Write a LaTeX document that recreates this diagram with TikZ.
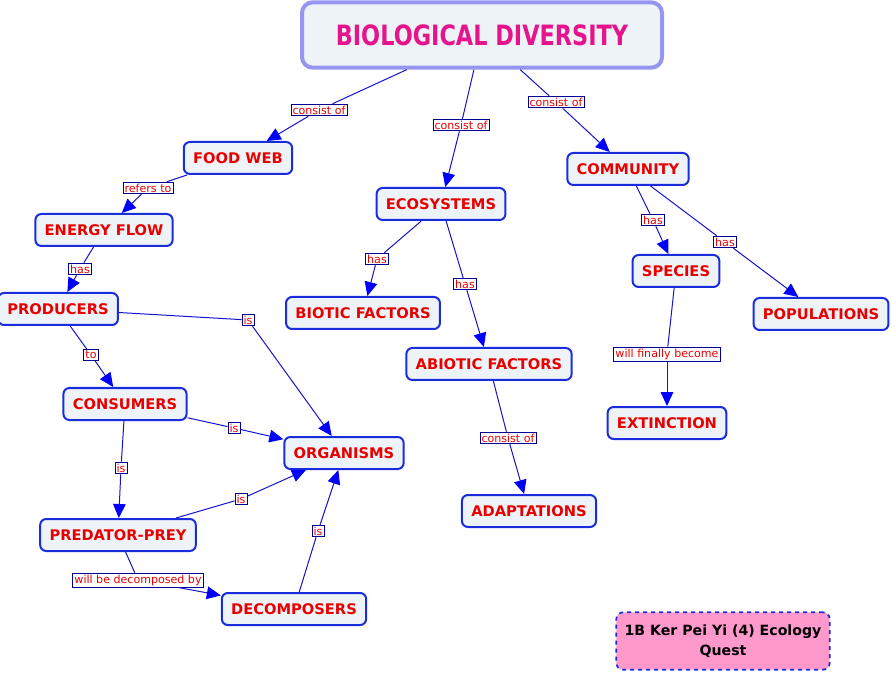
\documentclass[tikz,border=0pt]{standalone}
\usepackage{fontspec}
\setmainfont{DejaVu Sans}
\newfontfamily\titlefont{DejaVu Sans}[FakeStretch=0.8]
\usetikzlibrary{arrows.meta}
\definecolor{boxfill}{RGB}{238,243,247}
\definecolor{boxline}{RGB}{25,45,220}
\definecolor{txtred}{RGB}{232,0,0}
\definecolor{linkblue}{RGB}{20,20,205}
\definecolor{tipblue}{RGB}{0,0,255}
\definecolor{lblline}{RGB}{0,0,150}
\definecolor{titleline}{RGB}{150,150,240}
\definecolor{titletxt}{RGB}{230,20,140}
\definecolor{notefill}{RGB}{255,153,204}
\begin{document}
\begin{tikzpicture}[x=0.75pt, y=-0.75pt,
    concept/.style={draw=boxline, line width=1.5pt, fill=boxfill, rounded corners=4.5pt,
        text=txtred, font=\bfseries\fontsize{11}{13}\selectfont, inner xsep=7pt, minimum height=24pt},
    linking/.style={draw=lblline, line width=0.6pt, fill=white, text=txtred,
        font=\fontsize{8.3}{10}\selectfont, inner sep=1.2pt},
    link/.style={draw=linkblue, line width=0.75pt},
    arrowlink/.style={link, -{Triangle[length=10.5pt, width=9.5pt, color=tipblue]}}]
    \useasboundingbox (0,0) rectangle (892,673);

    % concepts
    \node[draw=titleline, line width=3pt, fill=boxfill, rounded corners=8pt, minimum width=270pt,
        minimum height=49pt, text=titletxt, font=\titlefont\bfseries\fontsize{21}{24}\selectfont] (title) at (482,35) {BIOLOGICAL DIVERSITY};
    \node[concept] (foodweb) at (238,158) {FOOD WEB};
    \node[concept] (energy) at (104,230) {ENERGY FLOW};
    \node[concept] (producers) at (58,309) {PRODUCERS};
    \node[concept] (consumers) at (125,404) {CONSUMERS};
    \node[concept] (predator) at (118,535) {PREDATOR-PREY};
    \node[concept] (decomp) at (294,609) {DECOMPOSERS};
    \node[concept] (organisms) at (344,453) {ORGANISMS};
    \node[concept] (ecosys) at (441,204) {ECOSYSTEMS};
    \node[concept] (biotic) at (363,313) {BIOTIC FACTORS};
    \node[concept] (abiotic) at (489,364) {ABIOTIC FACTORS};
    \node[concept] (adapt) at (529,511) {ADAPTATIONS};
    \node[concept] (community) at (628,169) {COMMUNITY};
    \node[concept] (species) at (676,271) {SPECIES};
    \node[concept] (popul) at (821,314) {POPULATIONS};
    \node[concept] (extinct) at (667,423) {EXTINCTION};
    \node[draw=boxline, dashed, line width=1.3pt, fill=notefill, rounded corners=5pt, minimum width=160pt,
        minimum height=43pt, align=center, font=\bfseries\fontsize{10.6}{15}\selectfont] (note) at (723,641) {1B Ker Pei Yi (4) Ecology\\Quest};

    % linking phrases
    \node[linking] (l1) at (319,110) {consist of};
    \node[linking] (l2) at (461,125) {consist of};
    \node[linking] (l3) at (556,102) {consist of};
    \node[linking] (l4) at (148,188) {refers to};
    \node[linking] (l5) at (80,269) {has};
    \node[linking] (l6) at (91,355) {to};
    \node[linking] (l7) at (248,320) {is};
    \node[linking] (l8) at (234,428) {is};
    \node[linking] (l9) at (121,468) {is};
    \node[linking] (l10) at (241,499) {is};
    \node[linking] (l11) at (318,531) {is};
    \node[linking] (l12) at (138,580) {will be decomposed by};
    \node[linking] (l13) at (377,259) {has};
    \node[linking] (l14) at (465,284) {has};
    \node[linking] (l15) at (508,438) {consist of};
    \node[linking] (l16) at (653,220) {has};
    \node[linking] (l17) at (725,242) {has};
    \node[linking] (l18) at (667,354) {will finally become};

    % connections
    \draw[link] (title) -- (l1);  \draw[arrowlink] (l1) -- (foodweb);
    \draw[link] (title) -- (l2);  \draw[arrowlink] (l2) -- (ecosys);
    \draw[link] (title) -- (l3);  \draw[arrowlink] (l3) -- (community);
    \draw[link] (foodweb) -- (l4);  \draw[arrowlink] (l4) -- (energy);
    \draw[link] (energy) -- (l5);  \draw[arrowlink] (l5) -- (producers);
    \draw[link] (producers) -- (l6);  \draw[arrowlink] (l6) -- (consumers);
    \draw[link] (producers) -- (l7);  \draw[arrowlink] (l7) -- (organisms);
    \draw[link] (consumers) -- (l8);  \draw[arrowlink] (l8) -- (organisms);
    \draw[link] (consumers) -- (l9);  \draw[arrowlink] (l9) -- (predator);
    \draw[link] (predator) -- (l10);  \draw[arrowlink] (l10) -- (organisms);
    \draw[link] (decomp) -- (l11);  \draw[arrowlink] (l11) -- (organisms);
    \draw[link] (predator) -- (l12);  \draw[arrowlink] (l12) -- (decomp);
    \draw[link] (ecosys) -- (l13);  \draw[arrowlink] (l13) -- (biotic);
    \draw[link] (ecosys) -- (l14);  \draw[arrowlink] (l14) -- (abiotic);
    \draw[link] (abiotic) -- (l15);  \draw[arrowlink] (l15) -- (adapt);
    \draw[link] (community) -- (l16);  \draw[arrowlink] (l16) -- (species);
    \draw[link] (community) -- (l17);  \draw[arrowlink] (l17) -- (popul);
    \draw[link] (species) -- (l18);  \draw[arrowlink] (l18) -- (extinct);
\end{tikzpicture}
\end{document}
